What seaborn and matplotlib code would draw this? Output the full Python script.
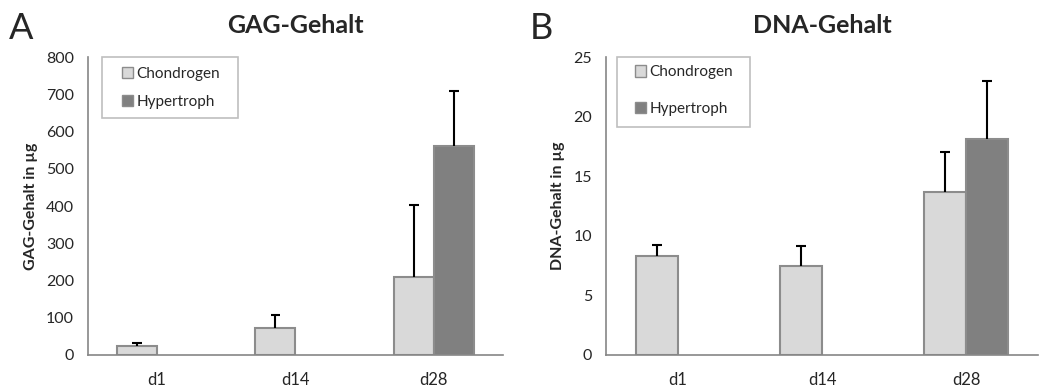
import matplotlib
matplotlib.use("Agg")
import matplotlib.pyplot as plt
from matplotlib.patches import Patch, Rectangle
import numpy as np
import pandas as pd
import seaborn as sns

# data
days = ["d1", "d14", "d28"]
groups = ["Chondrogen", "Hypertroph"]

gag_chondrogen = [25, 72, 210]
gag_hypertroph = [np.nan, np.nan, 562]
gag_err_chondrogen = [6, 35, 193]
gag_err_hypertroph = [np.nan, np.nan, 148]

dna_chondrogen = [8.3, 7.45, 13.65]
dna_hypertroph = [np.nan, np.nan, 18.15]
dna_err_chondrogen = [0.93, 1.72, 3.35]
dna_err_hypertroph = [np.nan, np.nan, 4.83]

colors = {"Chondrogen": "#D9D9D9", "Hypertroph": "#808080"}
edge = "#8C8C8C"
axis_grey = "#868686"


def make_df(chond, hyper, err_c, err_h):
    rows = []
    for d, v, e in zip(days, chond, err_c):
        rows.append({"day": d, "group": "Chondrogen", "value": v, "err": e})
    for d, v, e in zip(days, hyper, err_h):
        rows.append({"day": d, "group": "Hypertroph", "value": v, "err": e})
    return pd.DataFrame(rows)


def panel(ax, df, ymax, ystep, ylabel, title, leg_anchor, leg_spacing, frame):
    sns.barplot(data=df, x="day", y="value", hue="group", order=days,
                hue_order=groups, palette=colors, errorbar=None,
                width=0.58, edgecolor=edge, linewidth=1.5, ax=ax, legend=False)
    # upper error bars only (line from bar top + cap at the end)
    for cont, g in zip(ax.containers, groups):
        sub = df[(df["group"] == g) & df["value"].notna()]
        for patch, (_, row) in zip(cont.patches, sub.iterrows()):
            x = patch.get_x() + patch.get_width() / 2
            top = row["value"] + row["err"]
            ax.vlines(x, row["value"], top, color="black", lw=1.5, zorder=1)
            ax.plot([x - 0.035, x + 0.035], [top, top], color="black", lw=1.5,
                    solid_capstyle="butt", zorder=1)
    ax.set_xlim(-0.5, 2.5)
    ax.set_ylim(0, ymax)
    ax.set_yticks(np.arange(0, ymax + ystep / 2, ystep))
    ax.set_xlabel("")
    ax.set_ylabel(ylabel, fontsize=11.5, fontweight="bold", labelpad=6)
    ax.set_title(title, fontsize=18, fontweight="bold", pad=17)
    for s in ["top", "right"]:
        ax.spines[s].set_visible(False)
    for s in ["left", "bottom"]:
        ax.spines[s].set_color(axis_grey)
        ax.spines[s].set_linewidth(1.2)
    ax.tick_params(axis="y", length=4, color=axis_grey, labelsize=11.5, pad=6)
    ax.tick_params(axis="x", length=0, labelsize=12, pad=12)

    # legend box drawn by hand, entries placed inside it
    x0, y0, x1, y1 = frame
    ax.add_patch(Rectangle((x0, y0), x1 - x0, y1 - y0, transform=ax.transAxes,
                           facecolor="white", edgecolor="#BFBFBF", lw=1.2,
                           clip_on=False, zorder=3))
    handles = [Patch(facecolor=colors[g], edgecolor=edge, linewidth=1.0, label=g)
               for g in groups]
    leg = ax.legend(handles=handles, loc="upper left", bbox_to_anchor=leg_anchor,
                    fontsize=11, handlelength=0.75, handleheight=0.75,
                    handletextpad=0.2, labelspacing=leg_spacing, borderpad=0,
                    frameon=False, borderaxespad=0)
    leg.set_zorder(4)
    return leg


sns.set_theme(style="white")
plt.rcParams["font.family"] = ["Lato", "DejaVu Sans"]

fig = plt.figure(figsize=(10.39, 3.92), dpi=100)
ax1 = fig.add_axes([0.0847, 0.0944, 0.3994, 0.760])
ax2 = fig.add_axes([0.5833, 0.0944, 0.4158, 0.760])

panel(ax1, make_df(gag_chondrogen, gag_hypertroph, gag_err_chondrogen, gag_err_hypertroph),
      800, 100, "GAG-Gehalt in µg", "GAG-Gehalt",
      (0.082, 0.967), 0.9, (0.034, 0.795, 0.361, 1.0))
panel(ax2, make_df(dna_chondrogen, dna_hypertroph, dna_err_chondrogen, dna_err_hypertroph),
      25, 5, "DNA-Gehalt in µg", "DNA-Gehalt",
      (0.067, 0.972), 1.45, (0.0255, 0.765, 0.333, 1.0))

fig.text(0.009, 0.900, "A", fontsize=26)
fig.text(0.510, 0.900, "B", fontsize=26)

fig.savefig("out.png", dpi=100)
